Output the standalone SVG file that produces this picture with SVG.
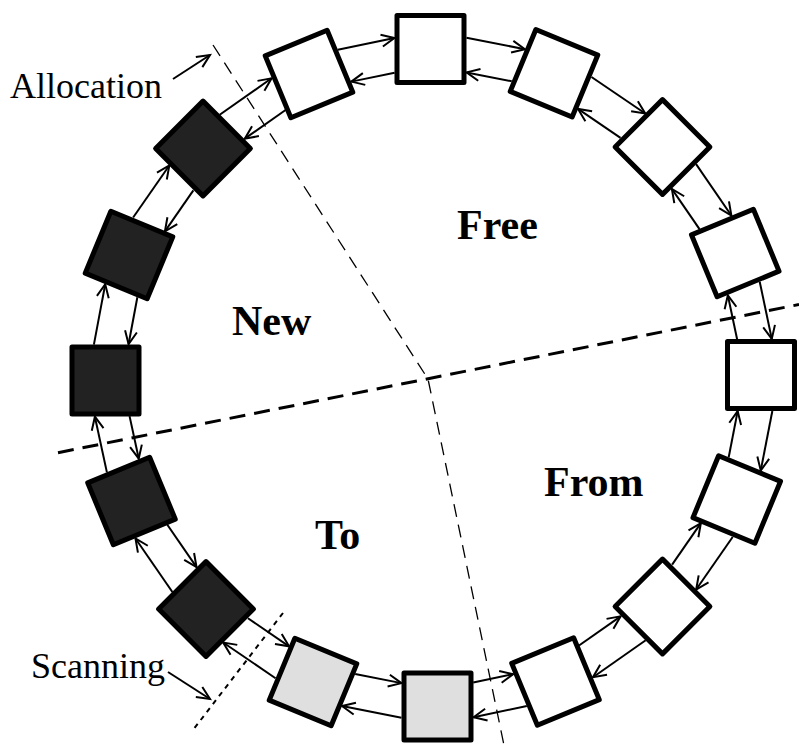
<svg xmlns="http://www.w3.org/2000/svg" width="799" height="750" viewBox="0 0 799 750">
  <defs>
    <marker id="ah" markerWidth="16" markerHeight="14" refX="14" refY="7" orient="auto" markerUnits="userSpaceOnUse" overflow="visible">
      <path d="M1,1 L14,7 L1,13" fill="none" stroke="#000" stroke-width="2"/>
    </marker>
    <style>
      .blk { fill: none; stroke: #000; stroke-width: 5; stroke-linejoin: round; }
      .free { fill: #fff; }
      .live { fill: #222; }
      .scan { fill: #dfdfdf; }
      .link { fill: none; stroke: #000; stroke-width: 2; marker-end: url(#ah); }
      .note { font-family: "Liberation Serif", "Times New Roman", serif; font-size: 36px; fill: #000; }
      .zone { font-family: "Liberation Serif", "Times New Roman", serif; font-size: 42px; font-weight: bold; fill: #000; }
      .split { fill: none; stroke: #000; stroke-width: 3; stroke-dasharray: 16 9; }
      .bound { fill: none; stroke: #000; stroke-width: 1.3; stroke-dasharray: 13 8; }
      .dots { fill: none; stroke: #000; stroke-width: 2; stroke-dasharray: 5 5; }
    </style>
  </defs>
  <rect width="799" height="750" fill="#fff"/>

  <!-- region boundaries -->
  <g id="boundaries">
    <line class="split" x1="58" y1="452.7" x2="799" y2="304.5"/>
    <polyline class="bound" points="213,45 428,379 505,750"/>
    <line class="dots" x1="283" y1="613" x2="193" y2="730"/>
  </g>

  <!-- links between neighbouring blocks: outer goes clockwise, inner goes back -->
  <g id="connectors">
    <g transform="translate(492.25,61.13) rotate(11.11)"><line class="link" x1="-29.8" y1="-18" x2="29.8" y2="-18"/><line class="link" x1="23" y1="16" x2="-23" y2="16"/></g>
    <g transform="translate(608.25,110.13) rotate(34.21)"><line class="link" x1="-32.5" y1="-18" x2="32.5" y2="-18"/><line class="link" x1="25.7" y1="16" x2="-25.7" y2="16"/></g>
    <g transform="translate(698.88,200) rotate(55.54)"><line class="link" x1="-31.2" y1="-18" x2="31.2" y2="-18"/><line class="link" x1="24.4" y1="16" x2="-24.4" y2="16"/></g>
    <g transform="translate(748.13,314) rotate(78.08)"><line class="link" x1="-29.2" y1="-18" x2="29.2" y2="-18"/><line class="link" x1="22.5" y1="16" x2="-22.5" y2="16"/></g>
    <g transform="translate(748.88,437.25) rotate(101.02)"><line class="link" x1="-30.3" y1="-18" x2="30.3" y2="-18"/><line class="link" x1="23.5" y1="16" x2="-23.5" y2="16"/></g>
    <g transform="translate(699.63,553) rotate(124.76)"><line class="link" x1="-32" y1="-18" x2="32" y2="-18"/><line class="link" x1="25.2" y1="16" x2="-25.2" y2="16"/></g>
    <g transform="translate(609,644) rotate(144.97)"><line class="link" x1="-32.2" y1="-18" x2="32.2" y2="-18"/><line class="link" x1="25.4" y1="16" x2="-25.4" y2="16"/></g>
    <g transform="translate(496.5,694) rotate(168.04)"><line class="link" x1="-27.2" y1="-18" x2="27.2" y2="-18"/><line class="link" x1="20.4" y1="16" x2="-20.4" y2="16"/></g>
    <g transform="translate(375.25,694.25) rotate(191.13)"><line class="link" x1="-30.3" y1="-18" x2="30.3" y2="-18"/><line class="link" x1="23.6" y1="16" x2="-23.6" y2="16"/></g>
    <g transform="translate(259.5,645.5) rotate(214.3)"><line class="link" x1="-31.7" y1="-18" x2="31.7" y2="-18"/><line class="link" x1="24.9" y1="16" x2="-24.9" y2="16"/></g>
    <g transform="translate(168.75,555) rotate(235.4)"><line class="link" x1="-32.5" y1="-18" x2="32.5" y2="-18"/><line class="link" x1="25.7" y1="16" x2="-25.7" y2="16"/></g>
    <g transform="translate(118.5,440.75) rotate(257.82)"><line class="link" x1="-28.5" y1="-18" x2="28.5" y2="-18"/><line class="link" x1="21.7" y1="16" x2="-21.7" y2="16"/></g>
    <g transform="translate(117.25,317.75) rotate(-79.39)"><line class="link" x1="-30.7" y1="-18" x2="30.7" y2="-18"/><line class="link" x1="23.9" y1="16" x2="-23.9" y2="16"/></g>
    <g transform="translate(166,201.75) rotate(-55.21)"><line class="link" x1="-31.7" y1="-18" x2="31.7" y2="-18"/><line class="link" x1="24.9" y1="16" x2="-24.9" y2="16"/></g>
    <g transform="translate(256,111.25) rotate(-35.1)"><line class="link" x1="-31.7" y1="-18" x2="31.7" y2="-18"/><line class="link" x1="24.9" y1="16" x2="-24.9" y2="16"/></g>
    <g transform="translate(369.75,61.5) rotate(-11.63)"><line class="link" x1="-28.9" y1="-18" x2="28.9" y2="-18"/><line class="link" x1="22.1" y1="16" x2="-22.1" y2="16"/></g>
    <!-- pointer arrows for the labels -->
    <line class="link" x1="173" y1="79" x2="210" y2="55"/>
    <line class="link" x1="168" y1="672" x2="210" y2="699"/>
  </g>

  <!-- ring of blocks -->
  <g id="n0"><rect class="blk free" x="397" y="15.5" width="67" height="67"/></g>
  <g id="n1" transform="rotate(22.5 554 73.25)"><rect class="blk free" x="520.5" y="39.75" width="67" height="67"/></g>
  <g id="n2" transform="rotate(45 662.5 147)"><rect class="blk free" x="629" y="113.5" width="67" height="67"/></g>
  <g id="n3" transform="rotate(67.5 735.25 253)"><rect class="blk free" x="701.75" y="219.5" width="67" height="67"/></g>
  <g id="n4" transform="rotate(90 761 375)"><rect class="blk free" x="727.5" y="341.5" width="67" height="67"/></g>
  <g id="n5" transform="rotate(112.5 736.75 499.5)"><rect class="blk free" x="703.25" y="466" width="67" height="67"/></g>
  <g id="n6" transform="rotate(135 662.5 606.5)"><rect class="blk free" x="629" y="573" width="67" height="67"/></g>
  <g id="n7" transform="rotate(157.5 555.5 681.5)"><rect class="blk free" x="522" y="648" width="67" height="67"/></g>
  <g id="n8" transform="rotate(180 437.5 706.5)"><rect class="blk scan" x="404" y="673" width="67" height="67"/></g>
  <g id="n9" transform="rotate(202.5 313 682)"><rect class="blk scan" x="279.5" y="648.5" width="67" height="67"/></g>
  <g id="n10" transform="rotate(225 206 609)"><rect class="blk live" x="172.5" y="575.5" width="67" height="67"/></g>
  <g id="n11" transform="rotate(247.5 131.5 501)"><rect class="blk live" x="98" y="467.5" width="67" height="67"/></g>
  <g id="n12" transform="rotate(270 105.5 380.5)"><rect class="blk live" x="72" y="347" width="67" height="67"/></g>
  <g id="n13" transform="rotate(292.5 129 255)"><rect class="blk live" x="95.5" y="221.5" width="67" height="67"/></g>
  <g id="n14" transform="rotate(315 203 148.5)"><rect class="blk live" x="169.5" y="115" width="67" height="67"/></g>
  <g id="n15" transform="rotate(337.5 309 74)"><rect class="blk free" x="275.5" y="40.5" width="67" height="67"/></g>

  <!-- labels -->
  <g id="labels">
    <text class="note" x="10" y="98">Allocation</text>
    <text class="note" x="31" y="678">Scanning</text>
    <text class="zone" x="457" y="239">Free</text>
    <text class="zone" x="232" y="335">New</text>
    <text class="zone" x="544" y="496">From</text>
    <text class="zone" x="315" y="549">To</text>
  </g>
</svg>
